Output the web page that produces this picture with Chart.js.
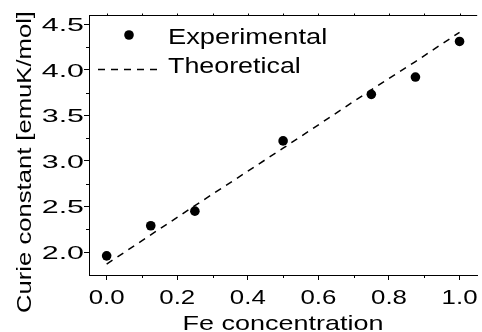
<!DOCTYPE html>
<html>
<head>
<meta charset="utf-8">
<script src="https://cdn.jsdelivr.net/npm/chart.js@4/dist/chart.umd.min.js"></script>
<style>
  html, body { margin: 0; padding: 0; background: #fff; }
  #wrap { width: 482px; height: 332px; }
</style>
</head>
<body>
<div id="wrap"><canvas id="c" width="482" height="332"></canvas></div>
<script>
// Fe concentration (x) and Curie constant (emuK/mol)
const feConc = [0.0, 0.125, 0.25, 0.5, 0.75, 0.875, 1.0];
const curieExperimental = [1.96, 2.29, 2.45, 3.22, 3.73, 3.92, 4.31];
const curieTheoretical = [1.87, 2.19, 2.51, 3.14, 3.78, 4.09, 4.41];

// axis ticks
const xMajorTicks = [0.0, 0.2, 0.4, 0.6, 0.8, 1.0];
const xMinorTicks = [0.1, 0.3, 0.5, 0.7, 0.9];
const yMajorTicks = [2.0, 2.5, 3.0, 3.5, 4.0, 4.5];
const yMinorTicks = [2.25, 2.75, 3.25, 3.75, 4.25];

const xTitle = 'Fe concentration';
const yTitle = 'Curie constant [emuK/mol]';
const legendLabels = ['Experimental', 'Theoretical'];

const FAMILY = '"Liberation Sans", Arial, sans-serif';

// text drawn wide along its reading direction
function wideText(ctx, text, x, y, o) {
  ctx.save();
  ctx.translate(x, y);
  if (o.rotate) ctx.rotate(o.rotate);
  ctx.scale(o.sx || 1, 1);
  ctx.font = o.size + 'px ' + FAMILY;
  ctx.fillStyle = '#000';
  ctx.textAlign = o.align || 'left';
  ctx.textBaseline = o.baseline || 'alphabetic';
  ctx.fillText(text, 0, 0);
  ctx.restore();
}

const decorations = {
  id: 'decorations',
  afterDraw(chart) {
    const ctx = chart.ctx;
    const area = chart.chartArea;
    const xs = chart.scales.x, ys = chart.scales.y;

    ctx.save();
    ctx.strokeStyle = '#000';
    ctx.lineWidth = 1;
    ctx.setLineDash([]);
    ctx.beginPath();
    // top frame line
    const topY = Math.round(area.top) + 0.5;
    ctx.moveTo(area.left, topY);
    ctx.lineTo(area.right, topY);
    // minor ticks, bottom axis
    const botY = Math.round(area.bottom);
    xMinorTicks.forEach(v => {
      const px = Math.round(xs.getPixelForValue(v)) + 0.5;
      ctx.moveTo(px, botY); ctx.lineTo(px, botY + 3);
    });
    // small ticks on top frame
    xMajorTicks.concat(xMinorTicks).forEach(v => {
      const px = Math.round(xs.getPixelForValue(v)) + 0.5;
      ctx.moveTo(px, topY); ctx.lineTo(px, topY - 2);
    });
    // minor ticks, left axis
    const leftX = Math.round(area.left);
    yMinorTicks.forEach(v => {
      const py = Math.round(ys.getPixelForValue(v)) + 0.5;
      ctx.moveTo(leftX, py); ctx.lineTo(leftX - 3, py);
    });
    ctx.stroke();
    ctx.restore();

    // tick labels
    xMajorTicks.forEach(v => {
      wideText(ctx, v.toFixed(1), xs.getPixelForValue(v), 304,
        { size: 21, sx: 1.23, align: 'center' });
    });
    yMajorTicks.forEach(v => {
      wideText(ctx, v.toFixed(1), 84, ys.getPixelForValue(v) + 6.8,
        { size: 19, sx: 1.6, align: 'right' });
    });

    // axis titles
    wideText(ctx, xTitle, (area.left + area.right) / 2, 330,
      { size: 21, sx: 1.285, align: 'center' });
    wideText(ctx, yTitle, 31, 162,
      { size: 21, sx: 1.22, align: 'center', rotate: -Math.PI / 2 });

    // legend
    ctx.save();
    ctx.fillStyle = '#000';
    ctx.beginPath();
    ctx.arc(129, 35, 4.8, 0, Math.PI * 2);
    ctx.fill();
    ctx.strokeStyle = '#000';
    ctx.lineWidth = 1.5;
    ctx.setLineDash([7, 6]);
    ctx.beginPath();
    ctx.moveTo(98, 69.5);
    ctx.lineTo(157, 69.5);
    ctx.stroke();
    ctx.restore();
    wideText(ctx, legendLabels[0], 168, 43.5, { size: 22, sx: 1.24 });
    wideText(ctx, legendLabels[1], 168, 73, { size: 22, sx: 1.22 });
  }
};

new Chart(document.getElementById('c'), {
  type: 'scatter',
  data: {
    datasets: [
      {
        label: legendLabels[1],
        type: 'line',
        data: feConc.map((x, i) => ({ x, y: curieTheoretical[i] })),
        borderColor: '#000',
        borderWidth: 1.5,
        borderDash: [7, 6],
        pointRadius: 0,
        tension: 0,
        fill: false,
        order: 2
      },
      {
        label: legendLabels[0],
        data: feConc.map((x, i) => ({ x, y: curieExperimental[i] })),
        backgroundColor: '#000',
        borderColor: '#000',
        borderWidth: 0,
        pointRadius: 4.8,
        pointHoverRadius: 4.8,
        order: 1
      }
    ]
  },
  options: {
    responsive: false,
    animation: false,
    devicePixelRatio: 1,
    layout: { padding: { top: 15, right: 0, left: 0, bottom: 0 } },
    plugins: {
      legend: { display: false },
      tooltip: { enabled: false },
      title: { display: false }
    },
    scales: {
      x: {
        type: 'linear',
        min: -0.05,
        max: 1.05,
        afterBuildTicks: s => { s.ticks = xMajorTicks.map(v => ({ value: v })); },
        afterFit: s => { s.height = 57; s.paddingLeft = 0; s.paddingRight = 0; },
        ticks: { display: false },
        border: { display: true, color: '#000', width: 1 },
        grid: {
          drawOnChartArea: false,
          drawTicks: true,
          tickLength: 5,
          tickColor: '#000',
          tickWidth: 1
        }
      },
      y: {
        type: 'linear',
        min: 1.75,
        max: 4.6,
        afterBuildTicks: s => { s.ticks = yMajorTicks.map(v => ({ value: v })); },
        afterFit: s => { s.width = 89; s.paddingTop = 0; s.paddingBottom = 0; },
        ticks: { display: false },
        border: { display: true, color: '#000', width: 1 },
        grid: {
          drawOnChartArea: false,
          drawTicks: true,
          tickLength: 5,
          tickColor: '#000',
          tickWidth: 1
        }
      }
    }
  },
  plugins: [decorations]
});
</script>
</body>
</html>
